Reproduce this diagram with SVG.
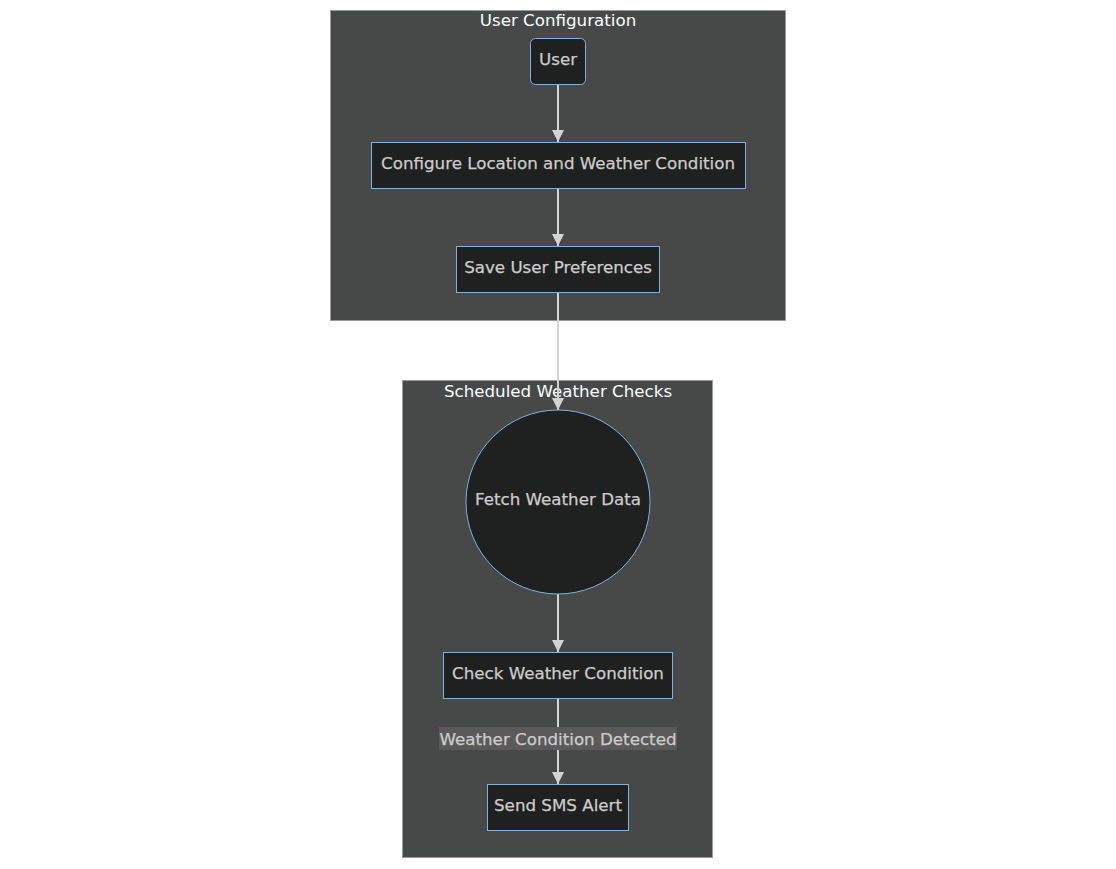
<svg xmlns="http://www.w3.org/2000/svg" width="1116" height="869" viewBox="0 0 1116 869">
<style>
.cluster{fill:#474949;stroke:#9a9a9a;stroke-width:1}
.ctitle{fill:#F9FFFE;font-family:"DejaVu Sans",Verdana,sans-serif;font-size:16.7px;text-anchor:middle}
.node{fill:#1f2020;stroke:#81B1DB;stroke-width:1}
.ntext{fill:#cccccc;font-family:"DejaVu Sans",Verdana,sans-serif;font-size:16.7px;text-anchor:middle;dominant-baseline:central;stroke:#cccccc;stroke-width:0.25}
.edge{stroke:#d3d3d3;stroke-width:2;fill:none}
.lbg{fill:#5a5a5a}
</style>
<defs>
<marker id="arrow" viewBox="0 0 10 10" refX="10" refY="5" markerWidth="13" markerHeight="12" markerUnits="userSpaceOnUse" orient="auto">
<path d="M0,0 L10,5 L0,10 z" fill="#d3d3d3"/>
</marker>
</defs>
<rect width="1116" height="869" fill="#ffffff"/>
<g id="cluster-user-config">
<rect class="cluster" x="330.5" y="10.5" width="455" height="310"/>
<text class="ctitle" x="558" y="26">User Configuration</text>
</g>
<g id="cluster-scheduled">
<rect class="cluster" x="402.5" y="380.5" width="310" height="477"/>
<text class="ctitle" x="558" y="397">Scheduled Weather Checks</text>
</g>
<g id="connectors">
<path class="edge" d="M558,84 V142" marker-end="url(#arrow)"/>
<path class="edge" d="M558,188 V246" marker-end="url(#arrow)"/>
<path class="edge" d="M558,292 V410" marker-end="url(#arrow)"/>
<path class="edge" d="M558,594 V652" marker-end="url(#arrow)"/>
<path class="edge" d="M558,698 V784" marker-end="url(#arrow)"/>
<rect class="lbg" x="439" y="727" width="238" height="23"/>
<text class="ntext" x="558" y="739">Weather Condition Detected</text>
</g>
<g id="node-user">
<rect class="node" x="530.5" y="38.5" width="55" height="46" rx="5"/>
<text class="ntext" x="558" y="59">User</text>
</g>
<g id="node-configure">
<rect class="node" x="371.5" y="142.5" width="374" height="46"/>
<text class="ntext" x="558" y="163">Configure Location and Weather Condition</text>
</g>
<g id="node-save">
<rect class="node" x="456.5" y="246.5" width="203" height="46"/>
<text class="ntext" x="558" y="267">Save User Preferences</text>
</g>
<g id="node-fetch">
<circle class="node" cx="558" cy="502" r="92"/>
<text class="ntext" x="558" y="499">Fetch Weather Data</text>
</g>
<g id="node-check">
<rect class="node" x="443.5" y="652.5" width="229" height="46"/>
<text class="ntext" x="558" y="673">Check Weather Condition</text>
</g>
<g id="node-sms">
<rect class="node" x="487.5" y="784.5" width="141" height="46"/>
<text class="ntext" x="558" y="805">Send SMS Alert</text>
</g>
</svg>
